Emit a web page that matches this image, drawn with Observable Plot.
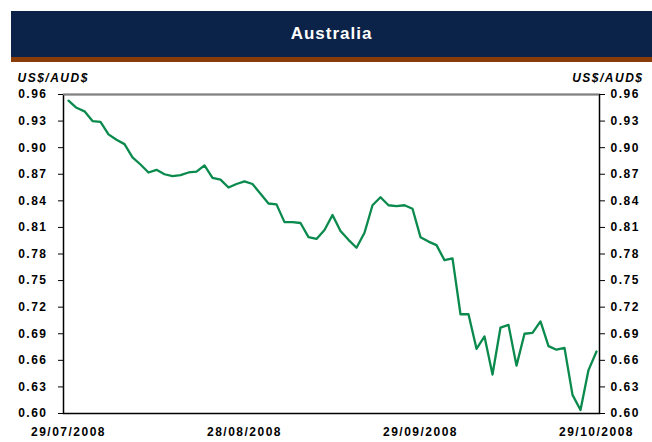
<!DOCTYPE html>
<html><head><meta charset="utf-8">
<script src="https://cdn.jsdelivr.net/npm/d3@7"></script>
<script src="https://cdn.jsdelivr.net/npm/@observablehq/plot@0.6"></script>
<style>
body{margin:0;background:#fff;font-family:"Liberation Sans",Arial,sans-serif;}
#wrap{width:652px;height:442px;position:relative;overflow:hidden;background:#fff}
#title{position:absolute;left:11px;top:11px;width:641px;height:46px;background:#0b2349;border-bottom:5px solid #8a3c08;color:#fff;font-weight:bold;font-size:17px;letter-spacing:1px;display:flex;align-items:center;justify-content:center}
#chart{position:absolute;left:0;top:62px}
</style></head><body>
<div id="wrap"><div id="title">Australia</div><div id="chart"></div></div>
<script>
// US$ per AUD$, daily (weekdays) 29/07/2008 – 29/10/2008
const rates = [
  0.953,0.945,0.941,0.930,0.929,0.915,0.909,0.904,0.889,0.881,
  0.872,0.875,0.870,0.868,0.869,0.872,0.873,0.880,0.866,0.864,
  0.855,0.859,0.862,0.859,0.848,0.837,0.836,0.816,0.816,0.815,
  0.799,0.797,0.807,0.824,0.806,0.796,0.787,0.804,0.835,0.844,
  0.835,0.834,0.835,0.831,0.799,0.794,0.790,0.773,0.775,0.712,
  0.712,0.673,0.687,0.644,0.697,0.700,0.654,0.690,0.691,0.704,
  0.676,0.672,0.674,0.621,0.604,0.649,0.670
];
const xLabels = ["29/07/2008","28/08/2008","29/09/2008","29/10/2008"];
const yTicks = [0.60,0.63,0.66,0.69,0.72,0.75,0.78,0.81,0.84,0.87,0.90,0.93,0.96];
const unitLabel = "US$/AUD$";

const fmt = d3.utcFormat("%d/%m/%Y");
const dates = d3.utcDay.range(new Date(Date.UTC(2008,6,29)), new Date(Date.UTC(2008,9,30)))
  .filter(d => d.getUTCDay() % 6 !== 0);
const data = rates.map((v,i) => ({i, v, date: dates[i]}));
const labelIdx = xLabels.map(l => dates.findIndex(d => fmt(d) === l));

const chart = Plot.plot({
  width: 652, height: 380,
  marginTop: 32, marginBottom: 29, marginLeft: 63, marginRight: 53,
  x: {domain: [0, rates.length - 1], insetLeft: 5, insetRight: 3},
  y: {domain: [0.60, 0.96]},
  style: {fontFamily: '"Liberation Sans", Arial, sans-serif', fontSize: "12px", fontWeight: "bold", color: "#000", letterSpacing: "1.5px", background: "#fff"},
  marks: [
    Plot.frame({stroke: "#000", strokeWidth: 1.5}),
    Plot.ruleY([0.96], {stroke: "#808080", strokeWidth: 1.5}),
    Plot.axisY({anchor: "left", ticks: yTicks, tickFormat: d => d.toFixed(2), tickSize: 5, tickPadding: 11, label: null, stroke: "#000"}),
    Plot.axisY({anchor: "right", ticks: yTicks, tickFormat: d => d.toFixed(2), tickSize: 5, tickPadding: 6, label: null, stroke: "#000"}),
    Plot.axisX({ticks: labelIdx, tickFormat: i => fmt(dates[i]), tickSize: 0, tickPadding: 14, label: null}),
    Plot.line(data, {x: "i", y: "v", stroke: "#0a8a4c", strokeWidth: 2.3}),
    Plot.text([unitLabel], {frameAnchor: "top-left", dx: -46, dy: -21, textAnchor: "start", fontSize: 12, fontStyle: "italic", fontWeight: "bold"}),
    Plot.text([unitLabel], {frameAnchor: "top-right", dx: 44, dy: -21, textAnchor: "end", fontSize: 12, fontStyle: "italic", fontWeight: "bold"})
  ]
});
document.getElementById("chart").appendChild(chart);
</script>
</body></html>
